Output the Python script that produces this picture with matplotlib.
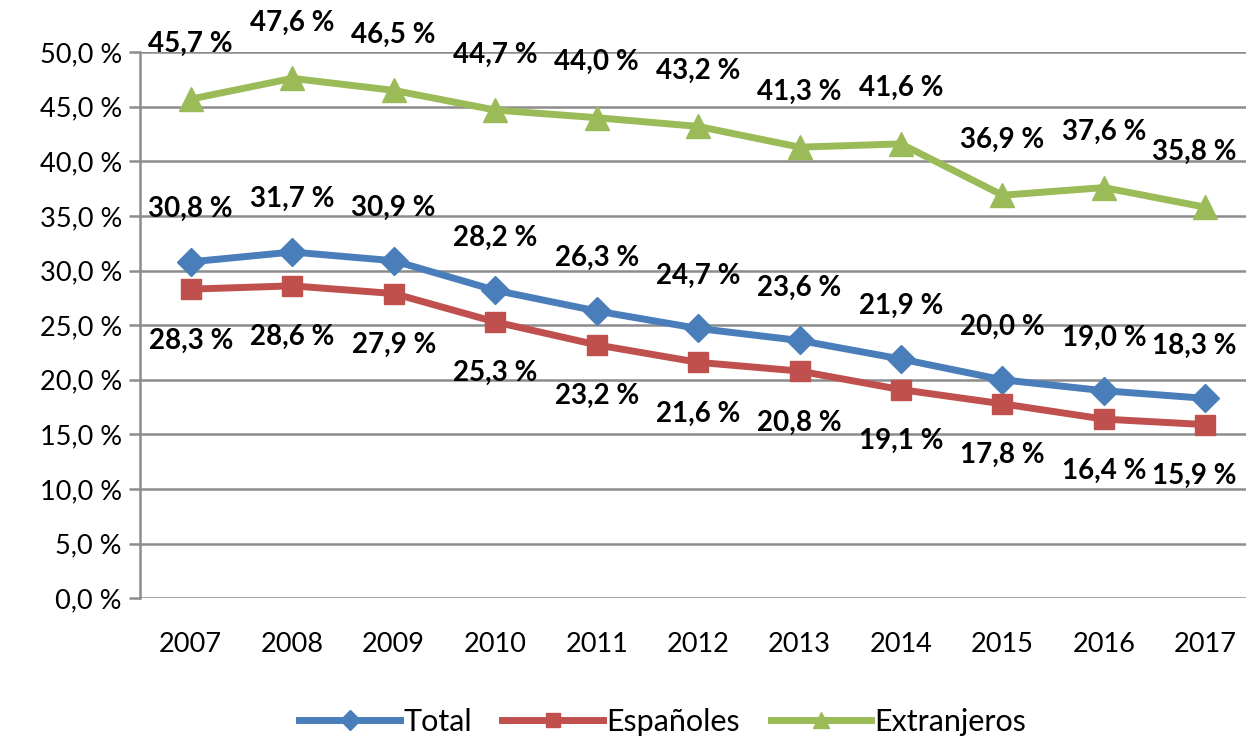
import matplotlib.pyplot as plt
import numpy as np

years = ['2007', '2008', '2009', '2010', '2011', '2012', '2013', '2014', '2015', '2016', '2017']
total = [30.8, 31.7, 30.9, 28.2, 26.3, 24.7, 23.6, 21.9, 20.0, 19.0, 18.3]
espanoles = [28.3, 28.6, 27.9, 25.3, 23.2, 21.6, 20.8, 19.1, 17.8, 16.4, 15.9]
extranjeros = [45.7, 47.6, 46.5, 44.7, 44.0, 43.2, 41.3, 41.6, 36.9, 37.6, 35.8]

plt.rcParams['font.family'] = ['Lato', 'DejaVu Sans']

fig = plt.figure(figsize=(12.46, 7.45), dpi=100)
ax = fig.add_axes([0.1124, 0.197, 0.8876, 0.733])

x = np.arange(len(years))
grid_c = '#8c8c8c'
for v in np.arange(0, 51, 5):
    ax.axhline(v, color=grid_c, lw=1.8, zorder=0)

ax.plot(x, total, color='#4a7ebb', lw=5, marker='D', ms=14, label='Total', zorder=3)
ax.plot(x, espanoles, color='#c0504d', lw=5, marker='s', ms=15, label='Españoles', zorder=3)
ax.plot(x, extranjeros, color='#9bbb59', lw=5, marker='^', ms=17, label='Extranjeros', zorder=3)

def fmt(v):
    return ('%.1f %%' % v).replace('.', ',')

lab = dict(ha='center', va='center', fontsize=20, fontweight='bold', textcoords='offset points')
for i in range(len(years)):
    dx = -8 if i == len(years) - 1 else 0  # keep last labels inside the figure
    ax.annotate(fmt(extranjeros[i]), (x[i], extranjeros[i]), xytext=(dx, 40), **lab)
    ax.annotate(fmt(total[i]), (x[i], total[i]), xytext=(dx, 38), **lab)
    ax.annotate(fmt(espanoles[i]), (x[i], espanoles[i]), xytext=(dx, -37), **lab)

ax.set_xlim(-0.5, 10.4)
ax.set_ylim(0, 50)
ax.set_xticks(x)
ax.set_xticklabels(years)
ax.set_yticks(np.arange(0, 51, 5))
ax.set_yticklabels([fmt(v) for v in np.arange(0, 51, 5)])
ax.tick_params(axis='y', length=8, color=grid_c, width=1.8, labelsize=19.5, pad=5)
ax.tick_params(axis='x', length=0, labelsize=19.5, pad=24)

for s in ['top', 'right', 'bottom']:
    ax.spines[s].set_visible(False)
ax.spines['left'].set_color(grid_c)
ax.spines['left'].set_linewidth(1.8)

fig.legend(loc='center', bbox_to_anchor=(0.532, 0.031), ncol=3, frameon=False, fontsize=22,
           handlelength=3.3, handletextpad=0.1, columnspacing=1.0, markerscale=0.7)

fig.savefig('out.png', dpi=100)
